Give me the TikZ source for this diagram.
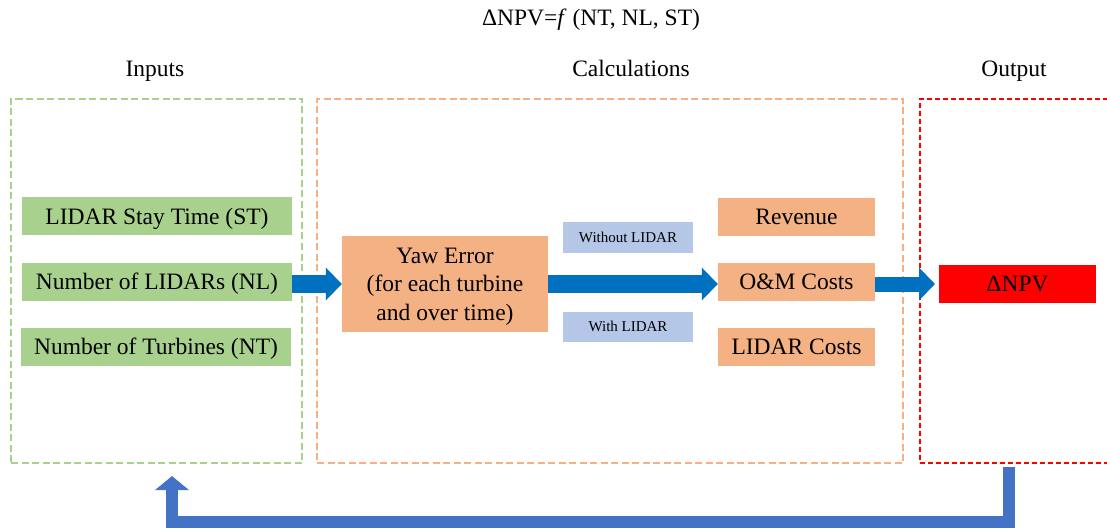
\documentclass[tikz,border=0pt]{standalone}
\usepackage{fontspec}
\setmainfont{Liberation Serif}
\usetikzlibrary{arrows.meta}
\definecolor{ingreen}{HTML}{A9D18E}
\definecolor{calcorange}{HTML}{F4B183}
\definecolor{tagblue}{HTML}{B4C7E7}
\definecolor{flowblue}{HTML}{0070C0}
\definecolor{loopblue}{HTML}{4472C4}
\definecolor{outred}{HTML}{FF0000}
\begin{document}
\begin{tikzpicture}[x=1pt,y=-1pt,
  bigtext/.style={font=\fontsize{23.5}{28.5}\selectfont, text height=15.5pt, text depth=0pt},
  smalltext/.style={font=\fontsize{15}{18}\selectfont, text height=10pt, text depth=0pt},
  group/.style={draw=#1, line width=2pt, dash pattern=on 7pt off 3.5pt, inner sep=0pt},
  inbox/.style={fill=ingreen, inner sep=0pt, minimum width=270pt, minimum height=38pt, bigtext},
  calcbox/.style={fill=calcorange, inner sep=0pt, minimum width=157pt, minimum height=38pt, bigtext},
  tagbox/.style={fill=tagblue, inner sep=0pt, minimum width=130pt, minimum height=30pt, smalltext},
  flow/.style={draw=flowblue, line width=#1, -{Triangle[width=32pt,length=16pt]}},
  flow/.default=18pt
]
\useasboundingbox (0,0) rectangle (1107,529);
\clip (0,0) rectangle (1107,529);

% headings
\node[bigtext] (title) at (591,18) {ΔNPV=\textit{f} (NT, NL, ST)};
\node[bigtext] (hin) at (155,68.5) {Inputs};
\node[bigtext] (hcalc) at (631,68.5) {Calculations};
\node[bigtext] (hout) at (1014,68.5) {Output};

% dashed group frames
\node[group=ingreen, minimum width=291pt, minimum height=364pt] (gin) at (156.5,281) {};
\node[group=calcorange, minimum width=586pt, minimum height=364pt] (gcalc) at (610,281) {};
\node[group=outred, dash pattern=on 5pt off 3pt, minimum width=220pt, minimum height=364pt] (gout) at (1030,281) {};

% inputs
\node[inbox] (st) at (157,216.5) {LIDAR Stay Time (ST)};
\node[inbox] (nl) at (157,281.5) {Number of LIDARs (NL)};
\node[inbox] (nt) at (156,346.5) {Number of Turbines (NT)};

% calculations
\node[fill=calcorange, inner sep=0pt, minimum width=206pt, minimum height=96pt, align=center, bigtext,
      text height=72.5pt, text depth=0pt] (yaw) at (445,284)
  {Yaw Error\\(for each turbine\\and over time)};
\node[tagbox] (without) at (628,237.5) {Without LIDAR};
\node[tagbox] (with) at (628,326.5) {With LIDAR};
\node[calcbox] (rev) at (796.5,217) {Revenue};
\node[calcbox] (om) at (796.5,281.5) {O\&M Costs};
\node[calcbox] (lc) at (796.5,346.5) {LIDAR Costs};

% output
\node[fill=outred, inner sep=0pt, minimum width=157pt, minimum height=38pt, bigtext] (npv) at (1017.5,283.5) {ΔNPV};

% flow arrows
\draw[flow] (nl.east |- 0,284) -- (yaw.west |- 0,284);
\draw[flow] (yaw.east |- 0,284) -- (om.west |- 0,284);
\coordinate (npvtip) at (935,284);
\draw[flow=15pt] (om.east |- 0,284) -- (npvtip);

% feedback loop from output back to inputs
\coordinate (loopstart) at (1009,467);
\coordinate (loopend) at (172,476);
\draw[draw=loopblue, line width=12pt, line join=miter, -{Triangle[width=33pt,length=14pt]}]
  (loopstart) -- (1009,522) -- (172,522) -- (loopend);
\end{tikzpicture}
\end{document}
